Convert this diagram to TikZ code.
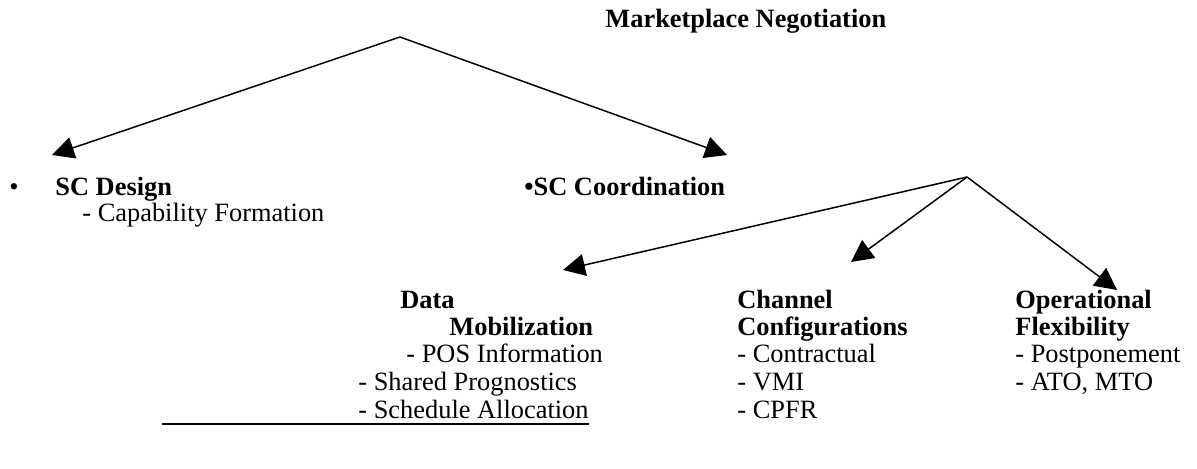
\documentclass[tikz,border=0pt]{standalone}
\usepackage{fontspec}
\setmainfont{Liberation Serif}
\usetikzlibrary{arrows.meta}
\begin{document}
\begin{tikzpicture}[x=0.5pt, y=-0.5pt,
  every node/.style={font=\fontsize{13.2}{13.5}\selectfont, inner sep=0pt, anchor=base west},
  head/.style={font=\fontsize{13.2}{13.5}\selectfont\bfseries},
  branch/.style={line width=0.75pt, -{Triangle[length=11pt,width=11pt]}}]
  \useasboundingbox (0,0) rectangle (1197,469);
  % top level
  \node[head] (mkt) at (605,28) {Marketplace Negotiation};
  \coordinate (top) at (400,37);
  \coordinate (tdes) at (52,155);
  \coordinate (tcrd) at (727,155);
  % second level
  \node (bul) at (9,196) {•};
  \node[head] (des) at (55,196) {SC Design};
  \node (cap) at (82,222) {- Capability Formation};
  \node[head] (crd) at (524,196) {•SC Coordination};
  \coordinate (mid) at (967,177);
  \coordinate (tdat) at (563,270);
  \coordinate (tchn) at (851,262);
  \coordinate (topf) at (1117,290);
  % third level
  \node[head] (dat) at (400,309) {Data};
  \node[head] (mob) at (449,336) {Mobilization};
  \foreach \n/\x/\y/\t in {pos/406/363/POS Information, shr/358/391/Shared Prognostics, sch/358/418/Schedule Allocation}
    \node (\n) at (\x,\y) {- \t};
  \node[head] (chn) at (737,309) {Channel};
  \node[head] (cfg) at (737,336) {Configurations};
  \foreach \n/\y/\t in {con/363/Contractual, vmi/391/VMI, cpf/418/CPFR}
    \node (\n) at (737,\y) {- \t};
  \node[head] (opr) at (1015,309) {Operational};
  \node[head] (flx) at (1015,336) {Flexibility};
  \foreach \n/\y/\t in {pst/363/Postponement, ato/391/{ATO, MTO}}
    \node (\n) at (1015,\y) {- \t};
  % underline
  \coordinate (ul) at (162,424);
  \draw[line width=0.75pt] (ul) -- (ul -| sch.east);
  % arrows
  \foreach \t in {tdes,tcrd} \draw[branch] (top) -- (\t);
  \foreach \t in {tdat,tchn,topf} \draw[branch] (mid) -- (\t);
\end{tikzpicture}
\end{document}
